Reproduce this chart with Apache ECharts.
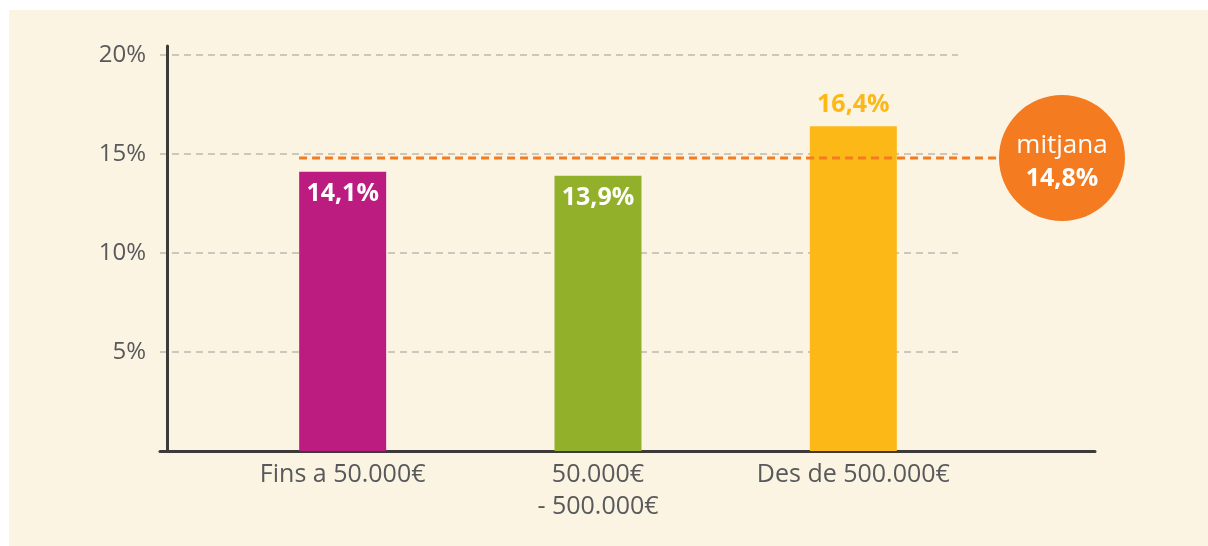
<!DOCTYPE html>
<html>
<head>
<meta charset="utf-8">
<script src="https://cdn.jsdelivr.net/npm/echarts@6/dist/echarts.min.js"></script>
<style>
html,body{margin:0;padding:0;background:#ffffff;}
#bg{position:absolute;left:9px;top:10px;width:1199px;height:536px;background:#fcf4e3;}
#c{position:absolute;left:0;top:0;width:1208px;height:546px;}
</style>
</head>
<body>
<div id="bg"></div>
<div id="c"></div>
<script>
// ---- data ----
const categories = ['Fins a 50.000€', '50.000€\n- 500.000€', 'Des de 500.000€'];
const values = [14.1, 13.9, 16.4];
const valueLabels = ['14,1%', '13,9%', '16,4%'];
const meanValue = 14.8;
const meanLabelTitle = 'mitjana';
const meanLabelValue = '14,8%';
const yTickValues = [0, 5, 10, 15, 20];
const yTickLabels = ['', '5%', '10%', '15%', '20%'];

// ---- styles / layout ----
const barColors = ['#bc1c80', '#93b02a', '#fbb817'];
const FONT = "'Open Sans', sans-serif";
const ORANGE = '#f47b20';
const TEXT = '#58595b';
const AXIS = '#3d3b39';
// x extent of the full baseline, in category units (first category centre = 0)
const X_MIN = -0.7143, X_MAX = 2.9452;
const MEAN_FROM = -0.17, MEAN_TO = 2.57, MEAN_BADGE_X = 2.816;

const chart = echarts.init(document.getElementById('c'), null, {renderer: 'canvas'});

const option = {
  animation: false,
  textStyle: {fontFamily: FONT},
  grid: [
    {left: 160, right: 250, top: 55, bottom: 95},  // split lines + y labels
    {left: 160, right: 113, top: 55, bottom: 95},  // baseline, mean line, badge
    {left: 215, right: 227, top: 55, bottom: 95},  // bars + categories
    {left: 167, right: 113, top: 46, bottom: 95}   // y axis line
  ],
  xAxis: [
    {gridIndex: 0, type: 'value', show: false, min: 0, max: 1},
    {gridIndex: 1, type: 'value', min: X_MIN, max: X_MAX,
     axisLine: {show: true, lineStyle: {color: AXIS, width: 3}},
     axisTick: {show: false}, axisLabel: {show: false}, splitLine: {show: false}},
    {gridIndex: 2, type: 'category', data: categories,
     axisLine: {show: false}, axisTick: {show: false}, splitLine: {show: false},
     axisLabel: {color: TEXT, fontSize: 25, lineHeight: 32, margin: 8, fontFamily: FONT, interval: 0}},
    {gridIndex: 3, type: 'value', show: false, min: 0, max: 1}
  ],
  yAxis: [
    {gridIndex: 0, type: 'value', min: yTickValues[0], max: yTickValues[yTickValues.length - 1], interval: 5,
     axisLine: {show: false}, axisTick: {show: false},
     axisLabel: {color: TEXT, fontSize: 24, margin: 14, fontFamily: FONT,
       formatter: v => yTickLabels[yTickValues.indexOf(v)] || ''},
     splitLine: {show: true, lineStyle: {color: '#bcb8b1', width: 1.5, type: [7, 5]}}},
    {gridIndex: 1, type: 'value', min: 0, max: 20, show: false},
    {gridIndex: 2, type: 'value', min: 0, max: 20, show: false},
    {gridIndex: 3, type: 'value', min: 0, max: 20 * 405 / 396,
     axisLine: {show: true, lineStyle: {color: AXIS, width: 3}},
     axisTick: {show: false}, axisLabel: {show: false}, splitLine: {show: false}}
  ],
  series: [
    {
      type: 'bar', xAxisIndex: 2, yAxisIndex: 2, barWidth: 87, z: 2,
      data: values.map((v, i) => ({
        value: v,
        itemStyle: {color: barColors[i]},
        label: i < 2
          ? {position: 'insideTop', distance: 10, color: '#ffffff'}
          : {position: 'top', distance: 9, color: barColors[i]}
      })),
      label: {show: true, fontSize: 25, fontWeight: 'bold', fontFamily: FONT,
        formatter: p => valueLabels[p.dataIndex]}
    },
    {
      type: 'line', xAxisIndex: 1, yAxisIndex: 1, z: 4, symbol: 'none', silent: true,
      data: [[MEAN_FROM, meanValue], [MEAN_TO, meanValue]],
      lineStyle: {color: ORANGE, width: 3, type: [8, 5]}
    },
    {
      type: 'scatter', xAxisIndex: 1, yAxisIndex: 1, z: 5, symbolSize: 126,
      data: [[MEAN_BADGE_X, meanValue]],
      itemStyle: {color: ORANGE, opacity: 1},
      label: {show: true, position: 'inside', offset: [0, 4],
        formatter: '{a|' + meanLabelTitle + '}\n{b|' + meanLabelValue + '}',
        rich: {
          a: {fontSize: 26, color: '#ffffff', fontFamily: FONT, lineHeight: 33},
          b: {fontSize: 25, color: '#ffffff', fontWeight: 'bold', fontFamily: FONT, lineHeight: 33}
        }}
    }
  ]
};
chart.setOption(option);
</script>
</body>
</html>
